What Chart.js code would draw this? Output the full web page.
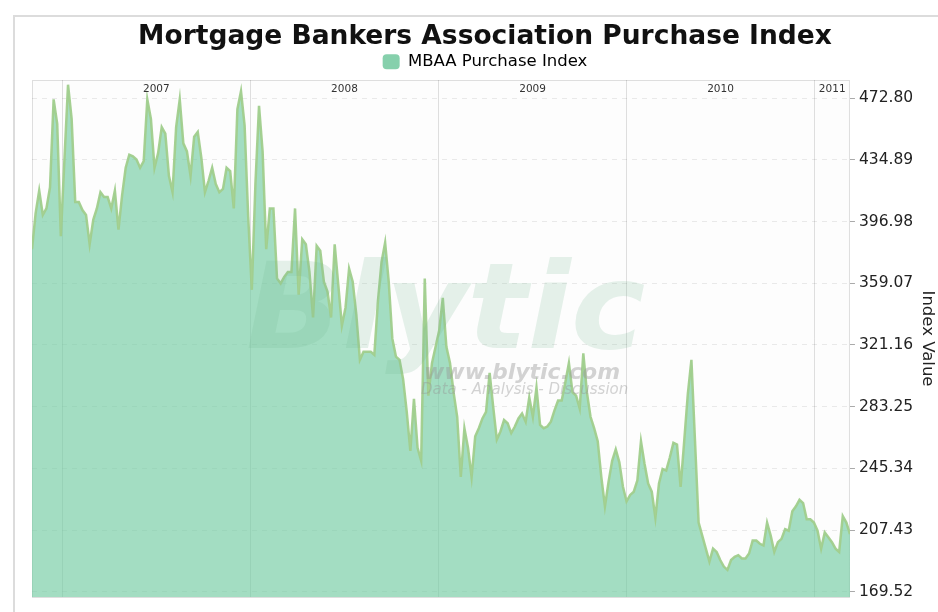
<!DOCTYPE html>
<html>
<head>
<meta charset="utf-8">
<title>MBAA Purchase Index</title>
<script src="https://cdn.jsdelivr.net/npm/chart.js@4.4.1/dist/chart.umd.min.js"></script>
<style>
  html, body { margin: 0; padding: 0; background: #fff; }
  #wrap { position: relative; width: 938px; height: 612px; overflow: hidden; }
  #frame { position: absolute; left: 13px; top: 15px; width: 960px; height: 640px; border: 2px solid #dcdcdc; box-sizing: border-box; }
  #mbaChart { position: absolute; left: 0; top: 0; }
</style>
</head>
<body>
<div id="wrap">
  <div id="frame"></div>
  <canvas id="mbaChart" width="938" height="612"></canvas>
</div>
<script>
// weekly readings, first week ending 2006-11-03
var startDate = '2006-11-03';

var purchaseIndex = [
    380, 402, 416, 401, 405, 418, 472, 457, 388, 435,
    481, 460, 409, 409, 404, 401, 383, 398, 405, 415,
    412, 412, 405, 416, 392, 413, 430, 438, 437, 435,
    430, 434, 472, 460, 430, 439, 455, 451, 425, 415,
    455, 472, 445, 440, 425, 449, 452, 436, 415, 422,
    430, 420, 415, 417, 430, 428, 405, 466, 477, 456,
    400, 355, 420, 468, 440, 380, 405, 405, 362, 359,
    363, 366, 366, 405, 352, 386, 383, 366, 338, 382,
    379, 360, 354, 338, 383, 358, 333, 344, 368, 360,
    340, 312, 317, 317, 317, 315, 348, 372, 384, 360,
    325, 314, 312, 300, 280, 256, 288, 258, 250, 362,
    290, 310, 320, 330, 350, 320, 310, 292, 277, 240,
    270, 258, 240, 265, 270, 276, 280, 304, 283, 263,
    268, 275, 273, 267, 271, 276, 279, 274, 289, 277,
    295, 272, 270, 271, 274, 281, 287, 287, 298, 310,
    292, 290, 282, 316, 292, 277, 270, 262, 240, 222,
    237, 250, 257, 249, 234, 225, 229, 231, 238, 262,
    248, 236, 231, 215, 236, 245, 244, 252, 261, 260,
    234, 262, 291, 312, 262, 212, 204, 196, 188, 196,
    194, 189, 185, 183, 189, 191, 192, 190, 190, 193,
    201, 201, 199, 198, 212, 204, 194, 200, 202, 208,
    207, 219, 222, 226, 224, 214, 214, 212, 207, 196,
    206, 203, 200, 196, 194, 216, 212, 205
];

var yearLabels = ['2007', '2008', '2009', '2010', '2011'];
var yTicks = [169.52, 207.43, 245.34, 283.25, 321.16, 359.07, 396.98, 434.89, 472.80];

var weekMs = 7 * 24 * 3600 * 1000;
var start = Date.parse(startDate + 'T00:00:00Z');
var lastWeek = purchaseIndex.length - 1;

// week position of Jan 1 of each labelled year
var yearStarts = yearLabels.map(function(y) {
    return (Date.UTC(Number(y), 0, 1) - start) / weekMs;
});

var weeks = purchaseIndex.map(function(v, i) { return i; });

var plotFrame = {
    id: 'plotFrame',
    beforeDraw: function(chart) {
        var a = chart.chartArea;
        var ctx = chart.ctx;
        ctx.save();
        ctx.fillStyle = '#fdfdfd';
        ctx.fillRect(a.left, a.top, a.right - a.left, a.bottom - a.top);
        ctx.strokeStyle = '#dedede';
        ctx.lineWidth = 1;
        ctx.strokeRect(a.left + 0.5, a.top + 0.5, a.right - a.left - 1, a.bottom - a.top);
        ctx.restore();
    }
};

var watermark = {
    id: 'watermark',
    afterDatasetsDraw: function(chart) {
        var ctx = chart.ctx;
        ctx.save();
        ctx.textBaseline = 'alphabetic';
        ctx.textAlign = 'left';
        ctx.save();
        ctx.translate(246, 348);
        ctx.scale(1.05, 1);
        ctx.font = 'italic bold 120px "DejaVu Sans"';
        ctx.fillStyle = 'rgba(115, 185, 145, 0.18)';
        ctx.fillText('Blytic', 0, 0);
        ctx.restore();
        ctx.font = 'italic bold 22px "DejaVu Sans"';
        ctx.fillStyle = 'rgba(150, 150, 150, 0.42)';
        ctx.fillText('www.blytic.com', 424, 379);
        ctx.font = 'italic 15px "DejaVu Sans"';
        ctx.fillText('Data - Analysis - Discussion', 421, 394);
        ctx.restore();
    }
};

var yearTitles = {
    id: 'yearTitles',
    afterDraw: function(chart) {
        var x = chart.scales.x;
        var ctx = chart.ctx;
        ctx.save();
        ctx.font = '10.5px "DejaVu Sans"';
        ctx.fillStyle = '#333';
        ctx.textAlign = 'center';
        ctx.textBaseline = 'middle';
        for (var i = 0; i < yearLabels.length; i++) {
            var from = Math.max(0, yearStarts[i]);
            var to = i + 1 < yearStarts.length ? Math.min(lastWeek, yearStarts[i + 1]) : lastWeek;
            var mid = (x.getPixelForValue(from) + x.getPixelForValue(to)) / 2;
            ctx.fillText(yearLabels[i], mid, chart.chartArea.top + 9);
        }
        ctx.restore();
    }
};

var ctx = document.getElementById('mbaChart').getContext('2d');
var mbaChart = new Chart(ctx, {
    type: 'line',
    data: {
        labels: weeks,
        datasets: [{
            label: 'MBAA Purchase Index',
            data: purchaseIndex,
            backgroundColor: 'rgba(120, 205, 165, 0.68)',
            borderColor: 'rgba(160, 205, 140, 0.95)',
            borderWidth: 2.5,
            pointRadius: 0,
            tension: 0,
            fill: 'start'
        }]
    },
    options: {
        responsive: false,
        animation: false,
        layout: {
            padding: { left: 32, right: 0, top: 0, bottom: 15 }
        },
        scales: {
            x: {
                type: 'linear',
                min: 0,
                max: lastWeek,
                z: 1,
                afterBuildTicks: function(axis) {
                    axis.ticks = yearStarts.map(function(v) { return { value: v }; });
                },
                ticks: { display: false },
                grid: { color: 'rgba(0,0,0,0.12)', drawTicks: false },
                border: { display: false }
            },
            y: {
                position: 'right',
                min: 166.3,
                max: 483.9,
                z: 1,
                afterBuildTicks: function(axis) {
                    axis.ticks = yTicks.map(function(v) { return { value: v }; });
                },
                ticks: {
                    color: '#222',
                    padding: 4,
                    font: { family: 'DejaVu Sans', size: 15.5 },
                    callback: function(v) { return Number(v).toFixed(2); }
                },
                grid: {
                    color: 'rgba(0,0,0,0.08)',
                    tickColor: '#aaa',
                    tickLength: 5
                },
                border: { display: false, dash: [5, 5] },
                title: {
                    display: true,
                    text: 'Index Value',
                    color: '#222',
                    font: { family: 'DejaVu Sans', size: 16.5 },
                    padding: { top: 1, bottom: 0 }
                }
            }
        },
        plugins: {
            title: {
                display: true,
                text: 'Mortgage Bankers Association Purchase Index',
                color: '#111',
                font: { family: 'DejaVu Sans', size: 26.5, weight: 'bold', lineHeight: 1 },
                padding: { top: 24, bottom: 0 }
            },
            legend: {
                display: true,
                labels: {
                    color: '#333',
                    font: { family: 'DejaVu Sans', size: 16.5 },
                    boxWidth: 17,
                    boxHeight: 15,
                    padding: 3,
                    useBorderRadius: true,
                    borderRadius: 4,
                    generateLabels: function(chart) {
                        return [{
                            text: 'MBAA Purchase Index',
                            fillStyle: '#86d0ac',
                            strokeStyle: '#86d0ac',
                            lineWidth: 0,
                            borderRadius: 4,
                            datasetIndex: 0
                        }];
                    }
                }
            },
            tooltip: { enabled: false }
        }
    },
    plugins: [plotFrame, watermark, yearTitles]
});
</script>
</body>
</html>
